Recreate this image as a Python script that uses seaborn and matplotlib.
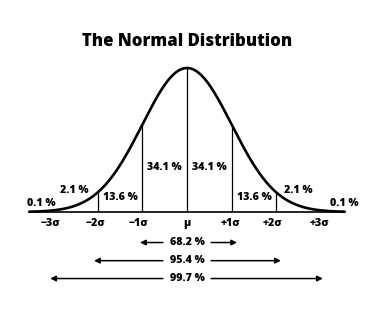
import numpy as np
import matplotlib
matplotlib.use("Agg")
import matplotlib.pyplot as plt
import seaborn as sns

# ---- data ----
sigma_levels = [-3, -2, -1, 0, 1, 2, 3]
tick_labels = ["−3σ", "−2σ", "−1σ", "μ", "+1σ", "+2σ", "+3σ"]
tick_x = [-3.06, -2.04, -1.08, 0.0, 0.96, 1.90, 2.96]
band_labels = ["0.1 %", "2.1 %", "13.6 %", "34.1 %", "34.1 %", "13.6 %", "2.1 %", "0.1 %"]
band_x = [-3.27, -2.51, -1.50, -0.51, 0.49, 1.50, 2.48, 3.53]
band_y = [0.062, 0.152, 0.103, 0.31, 0.31, 0.103, 0.152, 0.062]
range_labels = ["68.2 %", "95.4 %", "99.7 %"]
range_left = [-1.05, -2.08, -3.06]
range_right = [1.12, 2.10, 3.04]
range_y = [-0.212, -0.338, -0.462]
curve_extent = 3.53
title = "The Normal Distribution"

sns.set_theme(style="white")
plt.rcParams["font.family"] = ["Open Sans", "DejaVu Sans"]
plt.rcParams["text.color"] = "black"

W, H = 375, 318
cx, sig, base, peak = 187.0, 44.7, 212.0, 144.0
fig = plt.figure(figsize=(W / 100, H / 100), dpi=100)
ax = fig.add_axes([0, 0, 1, 1])
ax.set_xlim((0 - cx) / sig, (W - cx) / sig)
ax.set_ylim(-(H - base) / peak, base / peak)
ax.axis("off")

z = np.linspace(-curve_extent, curve_extent, 600)
h = np.exp(-z ** 2 / 2)
sns.lineplot(x=z, y=h, color="black", lw=1.9, ax=ax, sort=False)

ax.hlines(0, -curve_extent, curve_extent, color="black", lw=1.2)
inner = [s for s in sigma_levels if abs(s) < 3]
ax.vlines(inner, 0, [np.exp(-s ** 2 / 2) for s in inner], color="black", lw=0.9)

fs = 7.7
wt = 800
for lab, x in zip(tick_labels, tick_x):
    ax.text(x, -0.083, lab, ha="center", va="center", fontsize=fs, fontweight=wt, color="black")
for lab, x, y in zip(band_labels, band_x, band_y):
    ax.text(x, y, lab, ha="center", va="center", fontsize=fs, fontweight=wt, color="black")

gap = 0.54
for lab, l, r, y in zip(range_labels, range_left, range_right, range_y):
    ax.text(0.0, y, lab, ha="center", va="center", fontsize=fs, fontweight=wt, color="black")
    for tail, tip in [(-gap, l), (gap, r)]:
        ax.annotate("", xy=(tip, y), xytext=(tail, y),
                    arrowprops=dict(arrowstyle="-|>", color="black", lw=1.1,
                                    mutation_scale=8, shrinkA=0, shrinkB=0))

ax.text(0.0, 1.186, title, ha="center", va="center", fontsize=12.1, fontweight=wt, color="black")

fig.savefig("out.png", dpi=100, facecolor="white")
